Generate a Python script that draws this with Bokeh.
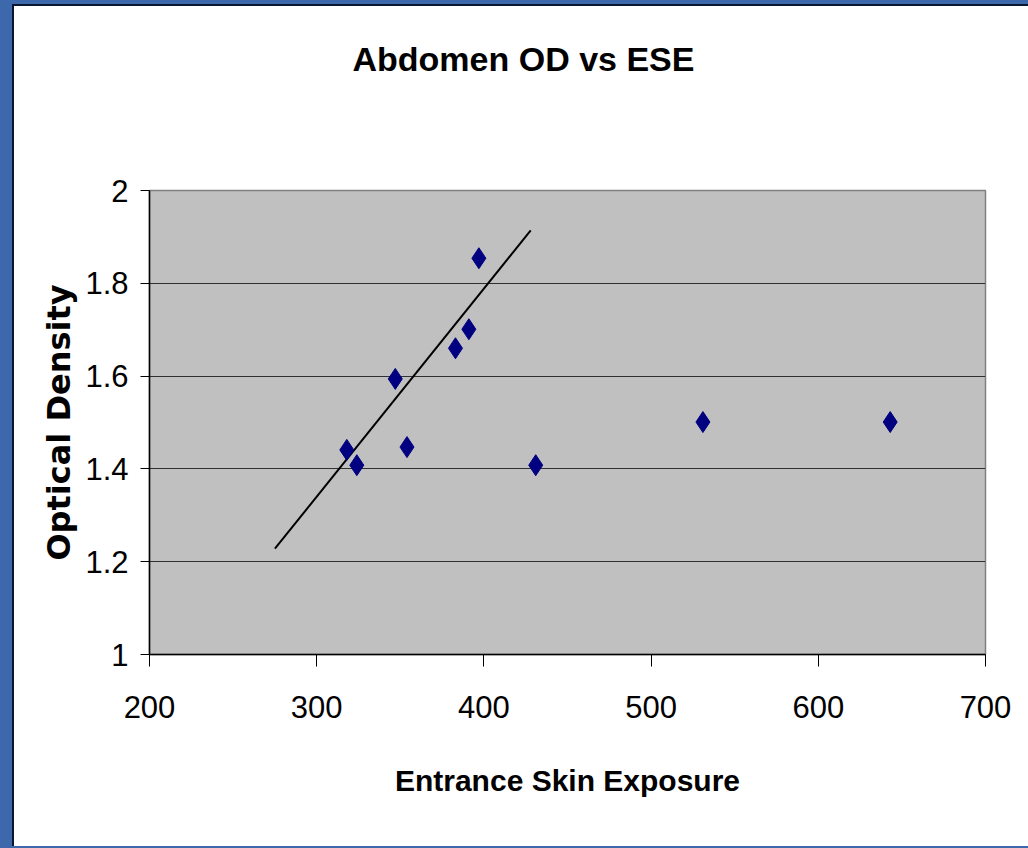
from bokeh.plotting import figure
from bokeh.models import Range1d, FixedTicker, Title
from bokeh.embed import file_html
from bokeh.resources import INLINE

# Data
ese = [318, 324, 347, 354, 383, 391, 397, 431, 531, 643]
od = [1.441, 1.408, 1.594, 1.447, 1.660, 1.701, 1.854, 1.408, 1.501, 1.501]
trend_x = [275, 428]
trend_y = [1.228, 1.914]

x_ticks = [200, 300, 400, 500, 600, 700]
x_tick_labels = ["200", "300", "400", "500", "600", "700"]
y_ticks = [1.0, 1.2, 1.4, 1.6, 1.8, 2.0]
y_tick_labels = ["1", "1.2", "1.4", "1.6", "1.8", "2"]
title_text = "Abdomen OD vs ESE"

SANS = "Liberation Sans"

p = figure(width=1014, height=840, output_backend="svg", toolbar_location=None,
           x_range=Range1d(200, 700), y_range=Range1d(1, 2),
           min_border_left=135, min_border_right=43, min_border_top=184, min_border_bottom=192,
           background_fill_color="#C0C0C0", border_fill_color="white",
           outline_line_color="#808080", outline_line_width=1.5)

# title: a thin spacer next to the frame, then the real title further up
p.title.text = ""
spacer = Title(text=" ", text_font_size="1px", standoff=110)
main_title = Title(text=title_text, align="left", offset=203, standoff=0,
                   text_font=SANS, text_font_size="34px", text_font_style="bold", text_color="black")
p.add_layout(spacer, "above")
p.add_layout(main_title, "above")

# x axis
xa = p.xaxis[0]
xa.ticker = FixedTicker(ticks=x_ticks)
xa.major_label_overrides = dict(zip(x_ticks, x_tick_labels))
xa.major_tick_in = 0
xa.major_tick_out = 12
xa.minor_tick_in = 0
xa.minor_tick_out = 0
xa.axis_line_color = "black"
xa.axis_line_width = 1.5
xa.major_tick_line_color = "black"
xa.major_label_text_font = SANS
xa.major_label_text_font_size = "31px"
xa.major_label_text_color = "black"
xa.major_label_standoff = 29
xa.axis_label = "Entrance Skin Exposure"
xa.axis_label_text_font = SANS
xa.axis_label_text_font_size = "30px"
xa.axis_label_text_font_style = "bold"
xa.axis_label_text_color = "black"
xa.axis_label_standoff = 43

# y axis
ya = p.yaxis[0]
ya.ticker = FixedTicker(ticks=y_ticks)
ya.major_label_overrides = dict(zip(y_ticks, y_tick_labels))
ya.major_tick_in = 0
ya.major_tick_out = 9
ya.minor_tick_in = 0
ya.minor_tick_out = 0
ya.axis_line_color = "black"
ya.axis_line_width = 1.5
ya.major_tick_line_color = "black"
ya.major_label_text_font = SANS
ya.major_label_text_font_size = "31px"
ya.major_label_text_color = "black"
ya.major_label_standoff = 12
ya.axis_label = "Optical Density"
ya.axis_label_text_font = "DejaVu Sans"
ya.axis_label_text_font_size = "32px"
ya.axis_label_text_font_style = "bold"
ya.axis_label_text_color = "black"
ya.axis_label_standoff = 4

p.xgrid.visible = False
p.ygrid.ticker = FixedTicker(ticks=[1.2, 1.4, 1.6, 1.8])
p.ygrid.grid_line_color = "#303030"
p.ygrid.grid_line_width = 1

p.line(trend_x, trend_y, line_color="black", line_width=2)
p.scatter(ese, od, marker="diamond", size=21, fill_color="#000080", line_color="#000080")

html = file_html(p, INLINE)
css = ("<style>html{background:#3D68AC !important;overflow:hidden !important;}"
       "body{margin:4px 0 0 12px !important;padding:0 !important;height:auto !important;"
       "border-top:2px solid #0B1730;border-left:2px solid #0B1730;background:white !important;}</style>")
html = html.replace("</head>", css + "</head>", 1)
open("out.html", "w").write(html)
